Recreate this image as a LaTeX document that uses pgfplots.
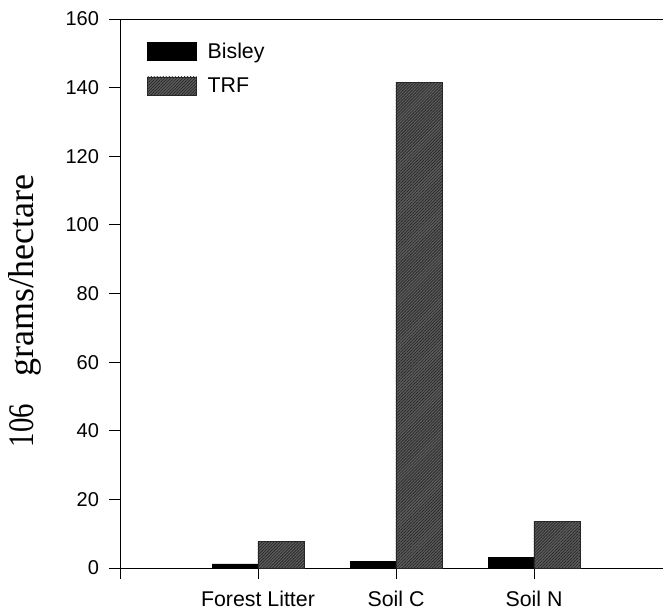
\documentclass[border=0pt]{standalone}
\usepackage{fontspec}
\setmainfont{Liberation Sans}
\newfontfamily\serif{Liberation Serif}
\usepackage{graphicx}
\usepackage{pgfplots}
\pgfplotsset{compat=1.18}
\usetikzlibrary{patterns.meta}

\definecolor{trfgray}{gray}{0.36}

\begin{document}
\begin{tikzpicture}
\begin{axis}[
    name=ax,
    scale only axis,
    width=407.25pt, height=411.75pt,
    xmin=0, xmax=3.935,
    ymin=0, ymax=160,
    axis x line=box, axis y line=left,
    axis line style={-, black, line width=0.7pt},
    xtick={0,1,2,3},
    xticklabels={,Forest Litter,Soil C,Soil N},
    xtick pos=left, ytick pos=left,
    ytick={0,20,...,160},
    tick align=outside,
    major tick length=8.25pt,
    tick style={black, line width=0.7pt},
    /pgf/number format/assume math mode=true,
    yticklabel style={font=\fontsize{15}{16}\selectfont, xshift=-4pt},
    xticklabel style={font=\fontsize{16}{17}\selectfont, yshift=-5.5pt},
    ylabel={\scalebox{0.8}[1]{106}\hspace{0.75em}grams/hectare},
    ylabel style={font=\serif\fontsize{27}{28}\selectfont,
        at={(axis description cs:-0.175,0.468)}, anchor=center},
    ybar, bar width=0.333,
    legend style={at={(axis description cs:0.05,0.962)}, anchor=north west,
        draw=none, fill=none, inner sep=0pt,
        font=\fontsize{16}{17}\selectfont, row sep=9pt},
    legend cell align=left,
    legend image code/.code={\draw[#1] (0pt,-6.75pt) rectangle (36.75pt,6.75pt);},
    /tikz/every odd column/.append style={column sep=0pt},
]
\addplot[fill=black, draw=black, bar shift=-0.1665] coordinates {
    (1,1.2) (2,2.0) (3,3.1)
};
\addlegendentry{\hspace{6pt}Bisley}
\addplot[fill=trfgray, draw=black!85,
    postaction={pattern={Lines[angle=45,distance=1.6pt,line width=0.5pt]}, pattern color=black!85},
    bar shift=0.1665] coordinates {
    (1,7.8) (2,141.5) (3,13.6)
};
\addlegendentry{\hspace{6pt}TRF}
\end{axis}
\pgfresetboundingbox
\path[use as bounding box] ([xshift=-90pt,yshift=-32.25pt]ax.south west) rectangle ([yshift=14.25pt]ax.north east);
\end{tikzpicture}
\end{document}
